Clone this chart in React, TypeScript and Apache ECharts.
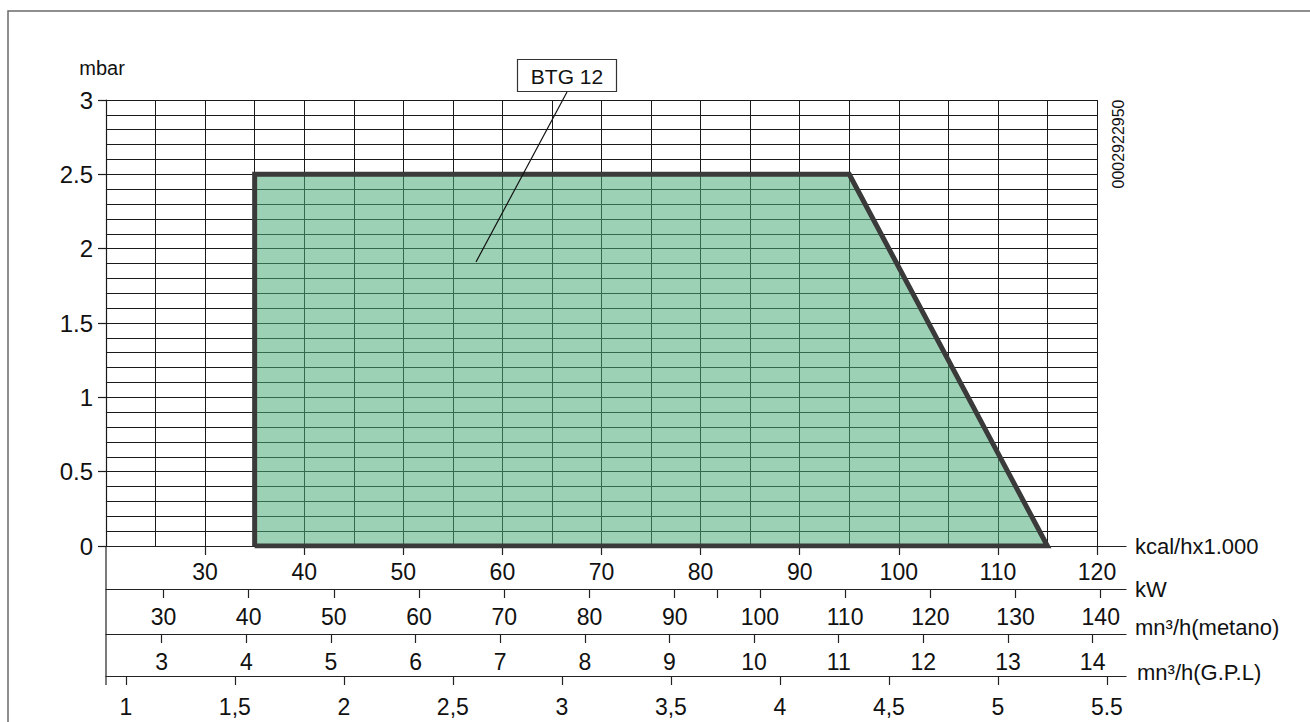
import React, { useEffect, useRef } from "react";
import * as echarts from "echarts";

// ---- data ----
const KCAL_MIN = 20;
const KCAL_MAX = 120;
const KCAL_TICKS = [30, 40, 50, 60, 70, 80, 90, 100, 110, 120];
const MBAR_MIN = 0;
const MBAR_MAX = 3;
// working field polygon (kcal/h x1000, mbar)
const AREA_KCAL = [35, 35, 95, 115, 35];
const AREA_MBAR = [0, 2.5, 2.5, 0, 0];
const SERIES_NAME = "BTG 12";
const DRAWING_CODE = "0002922950";

// conversion factors
const KW_PER_KCAL = 1.163;
const KCAL_PER_M3_METANO = 8.54;
const KCAL_PER_M3_GPL = 22;

const KW_TICKS = [30, 40, 50, 60, 70, 80, 90, 100, 110, 120, 130, 140];
const KW_EXTRA_TICKS = [95];
const METANO_TICKS = [3, 4, 5, 6, 7, 8, 9, 10, 11, 12, 13, 14];
const GPL_TICKS = [1, 1.5, 2, 2.5, 3, 3.5, 4, 4.5, 5, 5.5];
const GPL_LABELS = ["1", "1,5", "2", "2,5", "3", "3,5", "4", "4,5", "5", "5.5"];

const UNIT_KCAL = "kcal/hx1.000";
const UNIT_KW = "kW";
const UNIT_METANO = "mn³/h(metano)";
const UNIT_GPL = "mn³/h(G.P.L)";
const UNIT_Y = "mbar";

// ---- layout ----
const PLOT_LEFT = 106;
const PLOT_TOP = 100;
const PLOT_W = 991;
const PLOT_H = 446;
const EXT = 29;
const ROW_LINES = [546, 589, 634, 676];

const FONT = "'Liberation Sans', Arial, sans-serif";
const INK = "#111";

export default function App() {
  const ref = useRef<HTMLDivElement>(null);

  useEffect(() => {
    if (!ref.current) return;
    const chart = echarts.init(ref.current, undefined, { renderer: "svg" });

    const kcalExtMax = KCAL_MIN + ((KCAL_MAX - KCAL_MIN) * (PLOT_W + EXT)) / PLOT_W;

    const rows = [
      {
        min: KCAL_MIN,
        max: kcalExtMax,
        ticks: KCAL_TICKS,
        labels: KCAL_TICKS,
        name: UNIT_KCAL,
        nameVA: "middle",
        nameLH: 22,
        nameGap: 9,
        margin: 14,
        fmt: (v: number) => String(v),
      },
      {
        min: KCAL_MIN * KW_PER_KCAL,
        max: kcalExtMax * KW_PER_KCAL,
        ticks: [...KW_TICKS, ...KW_EXTRA_TICKS],
        labels: KW_TICKS,
        name: UNIT_KW,
        nameVA: "middle",
        nameLH: 22,
        nameGap: 9,
        margin: 16,
        fmt: (v: number) => String(v),
      },
      {
        min: KCAL_MIN / KCAL_PER_M3_METANO,
        max: kcalExtMax / KCAL_PER_M3_METANO,
        ticks: METANO_TICKS,
        labels: METANO_TICKS,
        name: UNIT_METANO,
        nameVA: "bottom",
        nameLH: 14,
        nameGap: 9,
        margin: 16,
        fmt: (v: number) => String(v),
      },
      {
        min: KCAL_MIN / KCAL_PER_M3_GPL,
        max: kcalExtMax / KCAL_PER_M3_GPL,
        ticks: GPL_TICKS,
        labels: GPL_TICKS,
        name: UNIT_GPL,
        nameVA: "bottom",
        nameLH: 8,
        nameGap: 11,
        margin: 19,
        fmt: (v: number) => {
          const i = GPL_TICKS.findIndex((t) => Math.abs(t - v) < 1e-6);
          return i >= 0 ? GPL_LABELS[i] : "";
        },
      },
    ];

    const grids: any[] = [
      { left: PLOT_LEFT, top: PLOT_TOP, width: PLOT_W, height: PLOT_H },
      ...ROW_LINES.map((y) => ({ left: PLOT_LEFT, top: y - 1, width: PLOT_W + EXT, height: 1 })),
    ];

    const xAxes: any[] = [
      {
        type: "value",
        gridIndex: 0,
        min: KCAL_MIN,
        max: KCAL_MAX,
        interval: 10,
        axisLine: { show: false },
        axisTick: { show: false },
        axisLabel: { show: false },
        splitLine: { show: true, lineStyle: { color: "#1a1a1a", width: 1 } },
        minorTick: { show: false, splitNumber: 2 },
        minorSplitLine: { show: true, lineStyle: { color: "#1a1a1a", width: 1 } },
      },
      ...rows.map((r, i) => ({
        type: "value",
        gridIndex: i + 1,
        position: "bottom",
        min: r.min,
        max: r.max,
        axisLine: { show: true, lineStyle: { color: "#222", width: 1.2 } },
        axisTick: {
          show: true,
          length: 9,
          customValues: r.ticks,
          lineStyle: { color: "#222", width: 1.2 },
        },
        axisLabel: {
          show: true,
          customValues: r.labels,
          margin: r.margin,
          fontSize: 23,
          color: INK,
          fontFamily: FONT,
          formatter: r.fmt,
        },
        splitLine: { show: false },
        name: r.name,
        nameLocation: "end",
        nameGap: r.nameGap,
        nameTextStyle: {
          fontSize: 22,
          color: INK,
          fontFamily: FONT,
          align: "left",
          verticalAlign: r.nameVA,
          lineHeight: r.nameLH,
        },
      })),
    ];

    const yAxes: any[] = [
      {
        type: "value",
        gridIndex: 0,
        min: MBAR_MIN,
        max: MBAR_MAX,
        interval: 0.5,
        axisLine: { show: true, lineStyle: { color: "#1a1a1a", width: 1.2 } },
        axisTick: { show: true, length: 8, lineStyle: { color: "#1a1a1a", width: 1.2 } },
        axisLabel: { show: true, fontSize: 24, color: INK, fontFamily: FONT, margin: 13 },
        splitLine: { show: true, lineStyle: { color: "#1a1a1a", width: 1 } },
        minorTick: { show: false, splitNumber: 5 },
        minorSplitLine: { show: true, lineStyle: { color: "#1a1a1a", width: 1 } },
        name: UNIT_Y,
        nameLocation: "end",
        nameGap: 22,
        nameTextStyle: { fontSize: 20, color: INK, fontFamily: FONT, padding: [0, 8, 0, 0] },
      },
      ...rows.map((_, i) => ({ type: "value", gridIndex: i + 1, show: false, min: 0, max: 1 })),
    ];

    const areaData = AREA_KCAL.map((x, i) => [x, AREA_MBAR[i]]);

    chart.setOption({
      animation: false,
      textStyle: { fontFamily: FONT },
      grid: grids,
      xAxis: xAxes,
      yAxis: yAxes,
      series: [
        {
          name: SERIES_NAME,
          type: "line",
          xAxisIndex: 0,
          yAxisIndex: 0,
          data: areaData,
          symbol: "none",
          lineStyle: { color: "#3a3a3a", width: 5, join: "miter" },
          areaStyle: { color: "rgb(77,171,120)", opacity: 0.55, origin: "start" },
          z: 5,
        },
      ],
      graphic: [
        {
          type: "rect",
          silent: true,
          z: 100,
          shape: { x: 8, y: 11, width: 1400, height: 900 },
          style: { fill: "none", stroke: "#6a6a6a", lineWidth: 1.5 },
        },
        {
          type: "line",
          silent: true,
          z: 100,
          shape: { x1: PLOT_LEFT, y1: PLOT_TOP + PLOT_H, x2: PLOT_LEFT, y2: 685 },
          style: { stroke: "#222", lineWidth: 1.2 },
        },
        {
          type: "line",
          silent: true,
          z: 100,
          shape: { x1: 567, y1: 92, x2: 476, y2: 262 },
          style: { stroke: "#111", lineWidth: 1.2 },
        },
        {
          type: "rect",
          silent: true,
          z: 100,
          shape: { x: 517.5, y: 59.5, width: 99, height: 32 },
          style: { fill: "#fff", stroke: "#333", lineWidth: 1.2 },
        },
        {
          type: "text",
          silent: true,
          z: 101,
          x: 567,
          y: 76,
          style: {
            text: SERIES_NAME,
            align: "center",
            verticalAlign: "middle",
            fontSize: 21,
            fontFamily: FONT,
            fill: INK,
          },
        },
        {
          type: "text",
          silent: true,
          z: 101,
          x: 1118,
          y: 144,
          rotation: Math.PI / 2,
          style: {
            text: DRAWING_CODE,
            align: "center",
            verticalAlign: "middle",
            fontSize: 16,
            fontFamily: FONT,
            fill: INK,
          },
        },
      ],
    });

    return () => chart.dispose();
  }, []);

  return (
    <div
      ref={ref}
      style={{ position: "absolute", left: 0, top: 0, width: 1310, height: 722 }}
    />
  );
}
